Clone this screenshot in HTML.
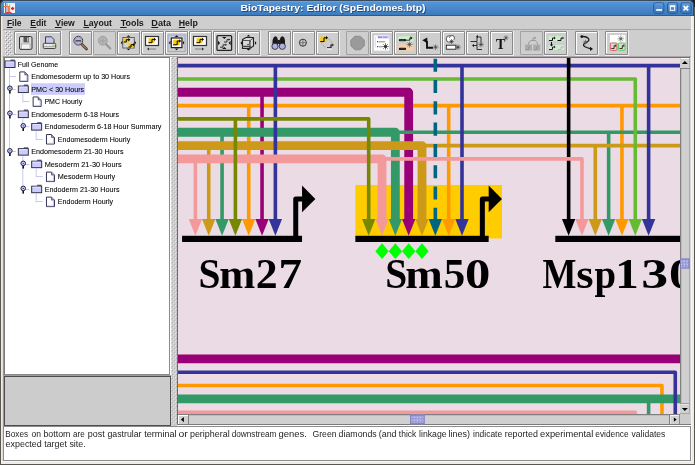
<!DOCTYPE html>
<html><head><meta charset="utf-8">
<style>
*{box-sizing:border-box;margin:0;padding:0}
html,body{width:695px;height:465px;overflow:hidden;background:#cecece;font-family:"Liberation Sans",sans-serif}
.a{position:absolute}
svg{will-change:transform}
#menu{left:3px;top:16px;width:688px;height:14px;background:#cecece;border-bottom:1px solid #a6a6a6}
#tb{left:3px;top:30px;width:688px;height:27px;background:#cecece;border-bottom:1px solid #a8a8a8}
#tree{left:4px;top:57px;width:166px;height:318px;background:#fff;border:1px solid #7a7a7a;border-right-color:#8a8a8a;border-bottom-color:#8a8a8a}
#lowpanel{left:4px;top:376px;width:167px;height:50px;background:#cccccc;border:1px solid #4d4d4d}
#canvas{left:178px;top:58px;width:502px;height:356px;background:#eadbe5;overflow:hidden}
#text{left:3px;top:426px;width:688px;height:35px;background:#fff;border:1px solid #8c8c8c}
</style></head><body>
<div class="a" style="left:0;top:0;width:1px;height:465px;background:#5a5650"></div>
<div class="a" style="left:1px;top:16px;width:2px;height:448px;background:#efece7"></div>
<div class="a" style="left:2px;top:16px;width:1px;height:446px;background:#dedad5"></div>
<div class="a" style="left:691px;top:16px;width:3px;height:448px;background:#efece7"></div>
<div class="a" style="left:691px;top:16px;width:1px;height:446px;background:#f8f7f4"></div>
<div class="a" style="left:694px;top:0;width:1px;height:465px;background:#5a5650"></div>
<div class="a" style="left:0;top:464px;width:695px;height:1px;background:#5a5650"></div>
<div class="a" style="left:1px;top:461px;width:693px;height:3px;background:#efece7"></div>
<div class="a" style="left:1px;top:461px;width:690px;height:1px;background:#f8f7f4"></div>
<svg class="a" style="left:0;top:0" width="695" height="16" viewBox="0 0 695 16"><defs><linearGradient id="tg" x1="0" y1="0" x2="0" y2="1"><stop offset="0" stop-color="#5597da"/><stop offset="1" stop-color="#3c7abd"/></linearGradient><linearGradient id="bg" x1="0" y1="0" x2="0" y2="1"><stop offset="0" stop-color="#5b99dc"/><stop offset="1" stop-color="#3a77bc"/></linearGradient></defs><rect x="0" y="0" width="695" height="7" fill="#1e1e1e"/><path d="M0 16V5Q0 0 5 0H689Q694 0 694 5V16Z" fill="#394b5e"/><path d="M1 15V5.5Q1 1 5.5 1H688.5Q693 1 693 5.5V15Z" fill="url(#tg)"/><path d="M3 1.5H690" stroke="#64a4e4" stroke-width="1"/><rect x="0" y="15" width="693" height="1" fill="#2d5b8e"/><rect x="4" y="3" width="11" height="10" fill="#f4f4f8"/><rect x="5" y="3" width="1.2" height="9" fill="#3a9a3a"/><rect x="6.5" y="3.5" width="1.2" height="8.5" fill="#8fa8f0"/><rect x="9" y="4.5" width="1.2" height="7.5" fill="#8fa8f0"/><rect x="4" y="6" width="5" height="1.2" fill="#f08030"/><rect x="8" y="6" width="1.2" height="6" fill="#f08030"/><rect x="5" y="12" width="6.5" height="1" fill="#e04040"/><path d="M11 8.5H14.2M12.6 7V10" stroke="#e02020" stroke-width="1.3"/><text x="241.4" y="12" textLength="185" lengthAdjust="spacingAndGlyphs" font-family="Liberation Sans" font-weight="bold" font-size="8.6" fill="#23406a" opacity="0.85">BioTapestry: Editor (SpEndomes.btp)</text><text x="240.6" y="11" textLength="185" lengthAdjust="spacingAndGlyphs" font-family="Liberation Sans" font-weight="bold" font-size="8.6" fill="#ffffff">BioTapestry: Editor (SpEndomes.btp)</text><rect x="653.7" y="2.8" width="10.2" height="10.6" rx="2" fill="url(#bg)" stroke="#2b5a92" stroke-width="1"/><path d="M655.2 3.8H662.4000000000001" stroke="#6aa6e6" stroke-width="0.8"/><rect x="667.5" y="2.8" width="10.2" height="10.6" rx="2" fill="url(#bg)" stroke="#2b5a92" stroke-width="1"/><path d="M669 3.8H676.2" stroke="#6aa6e6" stroke-width="0.8"/><rect x="680.9" y="2.8" width="10.2" height="10.6" rx="2" fill="url(#bg)" stroke="#2b5a92" stroke-width="1"/><path d="M682.4 3.8H689.6" stroke="#6aa6e6" stroke-width="0.8"/><rect x="656.2" y="9.1" width="5.8" height="1.7" fill="#fff"/><rect x="670.3" y="6" width="4.4" height="4.3" fill="none" stroke="#fff" stroke-width="1"/><rect x="669.8" y="5.5" width="5.4" height="1.6" fill="#fff"/><path d="M683.5 5.8L688.2 10.3M688.2 5.8L683.5 10.3" stroke="#fff" stroke-width="1.7"/></svg>
<div id="menu" class="a"></div>
<svg class="a" style="left:0;top:16px" width="240" height="14" viewBox="0 16 240 14" font-family="Liberation Sans" font-weight="bold" font-size="8.6" fill="#1a1a1a"><text x="6.93" y="25.6" textLength="14.66" lengthAdjust="spacingAndGlyphs">File</text><rect x="6.90" y="27" width="5.52" height="1" fill="#1a1a1a"/><text x="30.33" y="25.6" textLength="16.07" lengthAdjust="spacingAndGlyphs">Edit</text><rect x="30.30" y="27" width="5.97" height="1" fill="#1a1a1a"/><text x="55.34" y="25.6" textLength="19.44" lengthAdjust="spacingAndGlyphs">View</text><rect x="54.80" y="27" width="6.77" height="1" fill="#1a1a1a"/><text x="83.42" y="25.6" textLength="28.49" lengthAdjust="spacingAndGlyphs">Layout</text><rect x="83.40" y="27" width="5.66" height="1" fill="#1a1a1a"/><text x="120.70" y="25.6" textLength="23.15" lengthAdjust="spacingAndGlyphs">Tools</text><rect x="120.20" y="27" width="6.31" height="1" fill="#1a1a1a"/><text x="151.39" y="25.6" textLength="19.75" lengthAdjust="spacingAndGlyphs">Data</text><rect x="151.40" y="27" width="6.79" height="1" fill="#1a1a1a"/><text x="178.71" y="25.6" textLength="19.05" lengthAdjust="spacingAndGlyphs">Help</text><rect x="178.70" y="27" width="6.37" height="1" fill="#1a1a1a"/></svg>
<div id="tb" class="a"></div>
<svg class="a" style="left:0;top:30px" width="695" height="27" viewBox="0 30 695 27"><defs><pattern id="grip" width="4" height="4" patternUnits="userSpaceOnUse" x="5" y="31"><rect x="0" y="0" width="1" height="1" fill="#fff"/><rect x="1" y="1" width="1" height="1" fill="#8a8a8a"/><rect x="2" y="2" width="1" height="1" fill="#fff"/><rect x="3" y="3" width="1" height="1" fill="#8a8a8a"/></pattern></defs><rect x="5" y="31" width="7" height="25" fill="url(#grip)" opacity="0.85"/><path d="M14.5 31.5h22v23h-22z" fill="none" stroke="#8a8a8a"/><path d="M15.5 53V32.5H36" fill="none" stroke="#fff"/><path d="M14 55.5H37.5V31" fill="none" stroke="#f0f0f0"/><path d="M38.5 31.5h22v23h-22z" fill="none" stroke="#8a8a8a"/><path d="M39.5 53V32.5H60" fill="none" stroke="#fff"/><path d="M38 55.5H61.5V31" fill="none" stroke="#f0f0f0"/><path d="M69.5 31.5h22v23h-22z" fill="none" stroke="#8a8a8a"/><path d="M70.5 53V32.5H91" fill="none" stroke="#fff"/><path d="M69 55.5H92.5V31" fill="none" stroke="#f0f0f0"/><path d="M93.5 31.5h22v23h-22z" fill="none" stroke="#a2a2a2"/><path d="M117.5 31.5h22v23h-22z" fill="none" stroke="#8a8a8a"/><path d="M118.5 53V32.5H139" fill="none" stroke="#fff"/><path d="M117 55.5H140.5V31" fill="none" stroke="#f0f0f0"/><path d="M141.5 31.5h22v23h-22z" fill="none" stroke="#8a8a8a"/><path d="M142.5 53V32.5H163" fill="none" stroke="#fff"/><path d="M141 55.5H164.5V31" fill="none" stroke="#f0f0f0"/><path d="M165.5 31.5h22v23h-22z" fill="none" stroke="#8a8a8a"/><path d="M166.5 53V32.5H187" fill="none" stroke="#fff"/><path d="M165 55.5H188.5V31" fill="none" stroke="#f0f0f0"/><path d="M189.5 31.5h22v23h-22z" fill="none" stroke="#8a8a8a"/><path d="M190.5 53V32.5H211" fill="none" stroke="#fff"/><path d="M189 55.5H212.5V31" fill="none" stroke="#f0f0f0"/><path d="M213.5 31.5h22v23h-22z" fill="none" stroke="#8a8a8a"/><path d="M214.5 53V32.5H235" fill="none" stroke="#fff"/><path d="M213 55.5H236.5V31" fill="none" stroke="#f0f0f0"/><path d="M237.5 31.5h22v23h-22z" fill="none" stroke="#8a8a8a"/><path d="M238.5 53V32.5H259" fill="none" stroke="#fff"/><path d="M237 55.5H260.5V31" fill="none" stroke="#f0f0f0"/><path d="M268.5 31.5h22v23h-22z" fill="none" stroke="#8a8a8a"/><path d="M269.5 53V32.5H290" fill="none" stroke="#fff"/><path d="M268 55.5H291.5V31" fill="none" stroke="#f0f0f0"/><path d="M292.5 31.5h22v23h-22z" fill="none" stroke="#8a8a8a"/><path d="M293.5 53V32.5H314" fill="none" stroke="#fff"/><path d="M292 55.5H315.5V31" fill="none" stroke="#f0f0f0"/><path d="M316.5 31.5h22v23h-22z" fill="none" stroke="#8a8a8a"/><path d="M317.5 53V32.5H338" fill="none" stroke="#fff"/><path d="M316 55.5H339.5V31" fill="none" stroke="#f0f0f0"/><path d="M346.5 31.5h22v23h-22z" fill="none" stroke="#a2a2a2"/><path d="M370.5 31.5h22v23h-22z" fill="none" stroke="#8a8a8a"/><path d="M371.5 53V32.5H392" fill="none" stroke="#fff"/><path d="M370 55.5H393.5V31" fill="none" stroke="#f0f0f0"/><path d="M394.5 31.5h22v23h-22z" fill="none" stroke="#8a8a8a"/><path d="M395.5 53V32.5H416" fill="none" stroke="#fff"/><path d="M394 55.5H417.5V31" fill="none" stroke="#f0f0f0"/><path d="M418.5 31.5h22v23h-22z" fill="none" stroke="#8a8a8a"/><path d="M419.5 53V32.5H440" fill="none" stroke="#fff"/><path d="M418 55.5H441.5V31" fill="none" stroke="#f0f0f0"/><path d="M442.5 31.5h22v23h-22z" fill="none" stroke="#8a8a8a"/><path d="M443.5 53V32.5H464" fill="none" stroke="#fff"/><path d="M442 55.5H465.5V31" fill="none" stroke="#f0f0f0"/><path d="M466.5 31.5h22v23h-22z" fill="none" stroke="#8a8a8a"/><path d="M467.5 53V32.5H488" fill="none" stroke="#fff"/><path d="M466 55.5H489.5V31" fill="none" stroke="#f0f0f0"/><path d="M490.5 31.5h22v23h-22z" fill="none" stroke="#8a8a8a"/><path d="M491.5 53V32.5H512" fill="none" stroke="#fff"/><path d="M490 55.5H513.5V31" fill="none" stroke="#f0f0f0"/><path d="M520.5 31.5h22v23h-22z" fill="none" stroke="#a2a2a2"/><path d="M544.5 31.5h22v23h-22z" fill="none" stroke="#8a8a8a"/><path d="M545.5 53V32.5H566" fill="none" stroke="#fff"/><path d="M544 55.5H567.5V31" fill="none" stroke="#f0f0f0"/><path d="M575.5 31.5h22v23h-22z" fill="none" stroke="#8a8a8a"/><path d="M576.5 53V32.5H597" fill="none" stroke="#fff"/><path d="M575 55.5H598.5V31" fill="none" stroke="#f0f0f0"/><path d="M605.5 31.5h22v23h-22z" fill="none" stroke="#8a8a8a"/><path d="M606.5 53V32.5H627" fill="none" stroke="#fff"/><path d="M605 55.5H628.5V31" fill="none" stroke="#f0f0f0"/><rect x="19.5" y="36.5" width="12.5" height="13" rx="1.5" fill="#d8d8d8" stroke="#333" stroke-width="1"/><rect x="23.5" y="36.8" width="5.5" height="5.5" fill="#555"/><rect x="27" y="37.5" width="1.5" height="4" fill="#bbb"/><rect x="21.5" y="44" width="8.5" height="5" fill="#f4f4f4" stroke="#888" stroke-width="0.5"/><path d="M45.5 43.5V36.8H51.5L54 39.5V43.5" fill="#c6c6f0" stroke="#333" stroke-width="0.9"/><rect x="43.3" y="43.3" width="12.4" height="5.2" rx="1" fill="#e8e8e8" stroke="#333" stroke-width="0.9"/><rect x="44" y="46.2" width="11" height="1" fill="#999"/><rect x="52" y="44.6" width="3" height="1.4" fill="#bbee33"/><path d="M81.5 44L86.5 49" stroke="#333" stroke-width="2.6" stroke-linecap="round"/><path d="M81.8 44.3L86.2 48.7" stroke="#c8844a" stroke-width="1.2" stroke-linecap="round"/><circle cx="78.3" cy="40.7" r="4.4" fill="#b8b8e4" stroke="#444" stroke-width="1"/><circle cx="78.3" cy="40.7" r="3.4" fill="none" stroke="#9898cc" stroke-width="0.8"/><rect x="75.6" y="40" width="5.4" height="1.6" fill="#555"/><path d="M105.8 44L110.3 48.5" stroke="#999" stroke-width="2.2" stroke-linecap="round"/><circle cx="102.8" cy="40.7" r="4.4" fill="#b4b4b4" stroke="#9c9c9c" stroke-width="1"/><path d="M100.3 40.7h5M102.8 38.2v5" stroke="#a4a4a4" stroke-width="1.2"/><rect x="122.8" y="37.5" width="11.5" height="10.5" fill="#d4d4d4" stroke="#555" stroke-width="0.9"/><rect x="123.8" y="38.5" width="5" height="4" fill="#ffcc00"/><path d="M123.8 42.0H126.30000000000001V39.7H128.8" stroke="#000" stroke-width="1" fill="none"/><path d="M128.3 38.0l2 1.7l-2 1.7z" fill="#000"/><rect x="128.5" y="43.5" width="5" height="4" fill="#ffcc00"/><path d="M128.5 47.0H131.0V44.7H133.5" stroke="#000" stroke-width="1" fill="none"/><path d="M133.0 43.0l2 1.7l-2 1.7z" fill="#000"/><path d="M128.5 35.2l-2 1.6h4z M128.5 50.3l-2-1.6h4z M120.8 42.7l1.6-2v4z M136.2 42.7l-1.6-2v4z" fill="#111"/><rect x="145.5" y="36.5" width="13" height="9" fill="#fff" stroke="#333" stroke-width="1.2"/><rect x="148.5" y="38.2" width="6" height="5" fill="#ffcc00"/><path d="M148.5 42.7H152.0V39.400000000000006H154.5" stroke="#000" stroke-width="1" fill="none"/><path d="M154.0 37.7l2 1.7l-2 1.7z" fill="#000"/><path d="M148 49H156" stroke="#777" stroke-width="0.9"/><path d="M147 49l2-1.6v3.2z" fill="#333"/><rect x="168" y="35" width="17" height="16.5" fill="none" stroke="#a0a0d8" stroke-width="0.9"/><rect x="171.3" y="38" width="10.6" height="9.6" fill="#fff" stroke="#222" stroke-width="1.2"/><rect x="173.2" y="39.8" width="6.5" height="5.5" fill="#ffcc00"/><path d="M173.2 44.8H177.2V41.0H179.7" stroke="#000" stroke-width="1" fill="none"/><path d="M179.2 39.3l2 1.7l-2 1.7z" fill="#000"/><path d="M176.6 35.3l-2 1.6h4z M176.6 50.2l-2-1.6h4z M168.8 42.8l1.6-2v4z M184.4 42.8l-1.6-2v4z" fill="#111"/><rect x="193.5" y="36.5" width="13" height="9" fill="#fff" stroke="#333" stroke-width="1.2"/><rect x="196.5" y="38.2" width="6" height="5" fill="#ffcc00"/><path d="M196.5 42.7H200.0V39.400000000000006H202.5" stroke="#000" stroke-width="1" fill="none"/><path d="M202.0 37.7l2 1.7l-2 1.7z" fill="#000"/><path d="M195 49H203" stroke="#777" stroke-width="0.9"/><path d="M204 49l-2-1.6v3.2z" fill="#333"/><rect x="217" y="35.6" width="14.6" height="14.8" rx="1" fill="#d0d0d0" stroke="#222" stroke-width="1.3"/><path d="M224.3 39l-2.2-2h4.4z M224.3 47l-2.2 2h4.4z M220 43l-2-2.2v4.4z M228.6 43l2-2.2v4.4z" fill="#111"/><path d="M220 47.2H223V44.8H225.8M224 42H227V39.6H229" stroke="#333" stroke-width="1" fill="none"/><path d="M225.5 43.5l1.5 1.3-1.5 1.3z M228.7 38.2l1.5 1.3-1.5 1.3z" fill="#222"/><path d="M242.5 39.5L246 37.5H253.5V46L250 48.5H242.5Z" fill="#d8d8d8" stroke="#222" stroke-width="1.1"/><path d="M250 48.5V40.5L253.5 38" stroke="#444" stroke-width="0.9" fill="none"/><path d="M242.5 40.5H250" stroke="#444" stroke-width="0.9"/><path d="M242.5 46.5H250V48.5" stroke="#444" stroke-width="1.5" fill="none"/><path d="M247 44.5H249.5V41.5H251" stroke="#555" stroke-width="0.9" fill="none"/><path d="M248.5 34.8l-2 1.6h4z M248.5 50.5l-2-1.6h4z M240.5 43l1.6-2v4z M256.5 43l-1.6-2v4z" fill="#111"/><path d="M272.5 47V41Q273 37 275.5 36.3Q277.8 37 278 41V47Z" fill="#1a1a1a"/><path d="M279.5 47V41Q280 37 282.3 36.3Q284.8 37 285 41V47Z" fill="#1a1a1a"/><rect x="277" y="40" width="3.5" height="4" fill="#222"/><circle cx="275" cy="46.3" r="3.1" fill="#b0b0e8" stroke="#222" stroke-width="0.8"/><circle cx="282.3" cy="46.3" r="3.1" fill="#b0b0e8" stroke="#222" stroke-width="0.8"/><circle cx="302.9" cy="42.7" r="3.5" fill="none" stroke="#333" stroke-width="1"/><path d="M302.9 39v7.4M299.2 42.7h7.4" stroke="#555" stroke-width="0.7"/><rect x="320.3" y="36.6" width="6.2" height="5.5" fill="#ffcc00"/><path d="M320.3 41.6H324.0V37.800000000000004H326.5" stroke="#000" stroke-width="1" fill="none"/><path d="M326.0 36.1l2 1.7l-2 1.7z" fill="#000"/><path d="M327.5 38.5Q331.5 40 332 44M321.5 43.5Q323.5 46 326 47.5" stroke="#777" stroke-width="0.7" stroke-dasharray="1 1" fill="none"/><path d="M327 47.8H331V45H332.5" stroke="#111" stroke-width="1.1" fill="none"/><path d="M332.3 43.5l1.6 1.5-1.6 1.5z" fill="#111"/><rect x="327" y="48.5" width="5" height="1" fill="#fff"/><polygon points="364.34,45.79 360.39,49.74 354.81,49.74 350.86,45.79 350.86,40.21 354.81,36.26 360.39,36.26 364.34,40.21" fill="#9a9a9a" stroke="#8e8e8e" stroke-width="1"/><rect x="374" y="35.5" width="15.3" height="15.2" fill="#fff"/><rect x="377.5" y="36" width="11.5" height="2.5" fill="#ccccff"/><rect x="378" y="36.6" width="4" height="1.3" fill="#8888bb"/><rect x="383" y="36.6" width="4.5" height="1.3" fill="#9999cc"/><path d="M375.3 37v10.5" stroke="#ccccff" stroke-width="0.8"/><rect x="377" y="41" width="1.3" height="1.3" fill="#555"/><rect x="379" y="41.3" width="6" height="1" fill="#888"/><rect x="377" y="46" width="1.3" height="1.3" fill="#555"/><rect x="379" y="46.3" width="3" height="1" fill="#888"/><path d="M382.2 46.5L388.8 46.5" stroke="#222" stroke-width="0.7" opacity="0.85"/><path d="M385.5 43.2L385.5 49.8" stroke="#222" stroke-width="0.7" opacity="0.85"/><path d="M383.2 44.2L387.8 48.8" stroke="#222" stroke-width="0.7" opacity="0.85"/><path d="M383.2 48.8L387.8 44.2" stroke="#222" stroke-width="0.7" opacity="0.85"/><circle cx="385.5" cy="46.5" r="1.25" fill="#222"/><rect x="398.3" y="36.2" width="15" height="5.5" fill="#ccf0cc"/><rect x="398.3" y="44.5" width="15" height="6.2" fill="#f8d0a8"/><rect x="398.8" y="39" width="7.3" height="2.3" rx="1.1" fill="#1a1a1a"/><path d="M400.5 40.1h1M402.5 40.1h1.2" stroke="#aaa" stroke-width="0.6"/><path d="M406 40.2H409.8V38H411" stroke="#222" stroke-width="0.9" fill="none"/><path d="M410.5 36.3l2.2 1.7-2.2 1.7z" fill="#111"/><rect x="398.8" y="47.8" width="7.3" height="2.3" rx="1.1" fill="#111"/><path d="M400.3 48.9h4.5" stroke="#777" stroke-width="0.5"/><path d="M406.5 44.5L412.5 44.5" stroke="#555" stroke-width="0.7" opacity="0.85"/><path d="M409.5 41.5L409.5 47.5" stroke="#555" stroke-width="0.7" opacity="0.85"/><path d="M407.4 42.4L411.6 46.6" stroke="#555" stroke-width="0.7" opacity="0.85"/><path d="M407.4 46.6L411.6 42.4" stroke="#555" stroke-width="0.7" opacity="0.85"/><circle cx="409.5" cy="44.5" r="1.14" fill="#555"/><path d="M427 41V47.8H433" stroke="#111" stroke-width="1.9" fill="none"/><path d="M422.3 40.3L427.3 37.6V43.2Z" fill="#111"/><path d="M432.5 47.2L438.5 47.2" stroke="#555" stroke-width="0.7" opacity="0.85"/><path d="M435.5 44.2L435.5 50.2" stroke="#555" stroke-width="0.7" opacity="0.85"/><path d="M433.4 45.1L437.6 49.3" stroke="#555" stroke-width="0.7" opacity="0.85"/><path d="M433.4 49.3L437.6 45.1" stroke="#555" stroke-width="0.7" opacity="0.85"/><circle cx="435.5" cy="47.2" r="1.14" fill="#555"/><circle cx="449.5" cy="39" r="3.3" fill="#fff" stroke="#333" stroke-width="0.8"/><circle cx="452" cy="38" r="2.5" fill="#fff" stroke="#333" stroke-width="0.8"/><circle cx="451" cy="40" r="2.6" fill="#fff"/><path d="M449.0 41.5L454.0 41.5" stroke="#333" stroke-width="0.7" opacity="0.85"/><path d="M451.5 39.0L451.5 44.0" stroke="#333" stroke-width="0.7" opacity="0.85"/><path d="M449.8 39.8L453.2 43.2" stroke="#333" stroke-width="0.7" opacity="0.85"/><path d="M449.8 43.2L453.2 39.8" stroke="#333" stroke-width="0.7" opacity="0.85"/><circle cx="451.5" cy="41.5" r="0.95" fill="#333"/><rect x="446.3" y="45.2" width="9.6" height="4" fill="#fff" stroke="#222" stroke-width="0.9"/><path d="M455.2 47.2L460.8 47.2" stroke="#444" stroke-width="0.7" opacity="0.85"/><path d="M458.0 44.4L458.0 50.0" stroke="#444" stroke-width="0.7" opacity="0.85"/><path d="M456.0 45.2L460.0 49.2" stroke="#444" stroke-width="0.7" opacity="0.85"/><path d="M456.0 49.2L460.0 45.2" stroke="#444" stroke-width="0.7" opacity="0.85"/><circle cx="458" cy="47.2" r="1.06" fill="#444"/><path d="M470.5 41.5H477V37H481V42.5M477 42V49.5H482" stroke="#222" stroke-width="0.9" fill="none"/><path d="M476 36.5l2-1.6v3.2z M472 45.5l2-1.6v3.2z" fill="#111"/><path d="M474 45.5H477" stroke="#222" stroke-width="0.9"/><path d="M478.2 44.5L483.8 44.5" stroke="#444" stroke-width="0.7" opacity="0.85"/><path d="M481.0 41.7L481.0 47.3" stroke="#444" stroke-width="0.7" opacity="0.85"/><path d="M479.0 42.5L483.0 46.5" stroke="#444" stroke-width="0.7" opacity="0.85"/><path d="M479.0 46.5L483.0 42.5" stroke="#444" stroke-width="0.7" opacity="0.85"/><circle cx="481" cy="44.5" r="1.06" fill="#444"/><text x="496" y="48.6" font-family="Liberation Serif" font-weight="bold" font-size="14" fill="#111">T</text><path d="M503.5 37.8L508.5 37.8" stroke="#555" stroke-width="0.7" opacity="0.85"/><path d="M506.0 35.3L506.0 40.3" stroke="#555" stroke-width="0.7" opacity="0.85"/><path d="M504.2 36.0L507.8 39.5" stroke="#555" stroke-width="0.7" opacity="0.85"/><path d="M504.2 39.5L507.8 36.0" stroke="#555" stroke-width="0.7" opacity="0.85"/><circle cx="506" cy="37.8" r="0.95" fill="#555"/><rect x="525" y="44.5" width="7" height="6.2" fill="#ababab"/><rect x="533.2" y="44.5" width="7" height="6.2" fill="#ababab"/><path d="M526 49.5H528.5V47H530M534.2 49.5H536.7V47H538.2" stroke="#949494" stroke-width="0.9" fill="none"/><path d="M528.5 44.5V43L530.5 40.5H535.5L537.5 43V44.5M533 40.5V38H535" stroke="#9a9a9a" stroke-width="1" fill="none"/><path d="M534.6 36.3l1.8 1.6-1.8 1.6z" fill="#9a9a9a"/><rect x="548.7" y="36.2" width="15.5" height="4.6" fill="#ccf0cc"/><rect x="548.7" y="45" width="15.5" height="5" fill="#ccf0cc"/><path d="M549 40.5H552.5V38.0H554" stroke="#111" stroke-width="1" fill="none"/><path d="M554 36.5l1.6 1.5-1.6 1.5z" fill="#111"/><path d="M557.5 40.5H561.0V38.0H562.5" stroke="#111" stroke-width="1" fill="none"/><path d="M562.5 36.5l1.6 1.5-1.6 1.5z" fill="#111"/><path d="M549 49.5H552.5V47.0H554" stroke="#222" stroke-width="1" fill="none"/><path d="M554 45.5l1.6 1.5-1.6 1.5z" fill="#222"/><path d="M557.5 49.5H561.0V47.0H562.5" stroke="#bbb" stroke-width="1" fill="none"/><path d="M562.5 45.5l1.6 1.5-1.6 1.5z" fill="#bbb"/><path d="M551.5 42V45" stroke="#111" stroke-width="1"/><path d="M549.8 44.5h3.4l-1.7 2z" fill="#111"/><path d="M581.8 36.6Q586 36 588.5 38.5Q590 41 586 42.5Q582 44.5 584.5 46.5Q587 48 591 48.8" stroke="#1a1a1a" stroke-width="1.3" fill="none"/><circle cx="581.8" cy="36.6" r="1.4" fill="#111"/><path d="M593 49l-3-2.2v4.2z" fill="#111"/><path d="M583.0 42.3L588.0 42.3" stroke="#555" stroke-width="0.7" opacity="0.85"/><path d="M585.5 39.8L585.5 44.8" stroke="#555" stroke-width="0.7" opacity="0.85"/><path d="M583.8 40.5L587.2 44.0" stroke="#555" stroke-width="0.7" opacity="0.85"/><path d="M583.8 44.0L587.2 40.5" stroke="#555" stroke-width="0.7" opacity="0.85"/><circle cx="585.5" cy="42.3" r="0.95" fill="#555"/><rect x="610" y="35" width="15.4" height="7.7" fill="#fff"/><path d="M617.4 38.8L624.2 38.8" stroke="#666" stroke-width="0.7" opacity="0.85"/><path d="M620.8 35.4L620.8 42.2" stroke="#666" stroke-width="0.7" opacity="0.85"/><path d="M618.4 36.4L623.2 41.2" stroke="#666" stroke-width="0.7" opacity="0.85"/><path d="M618.4 41.2L623.2 36.4" stroke="#666" stroke-width="0.7" opacity="0.85"/><circle cx="620.8" cy="38.8" r="1.29" fill="#666"/><rect x="610.3" y="43" width="6.6" height="7.4" rx="1" fill="#d8d8d8" stroke="#e85050" stroke-width="0.9"/><rect x="618.5" y="43" width="6.6" height="7.4" rx="1" fill="#d8d8d8" stroke="#50d050" stroke-width="0.9"/><path d="M611.3 48.5H614.0999999999999V45.7H615.3" stroke="#222" stroke-width="0.9" fill="none"/><path d="M615.0999999999999 44.3l1.5 1.4-1.5 1.4z" fill="#222"/><path d="M619.5 48.5H622.3V45.7H623.5" stroke="#222" stroke-width="0.9" fill="none"/><path d="M623.3 44.3l1.5 1.4-1.5 1.4z" fill="#222"/></svg>
<div class="a" style="left:3px;top:56px;width:1px;height:370px;background:#999"></div>
<div id="tree" class="a"></div>
<div class="a" style="left:170px;top:57px;width:1px;height:319px;background:#fff"></div>
<div class="a" style="left:4px;top:375px;width:167px;height:1px;background:#9c9c9c"></div>
<svg class="a" style="left:0;top:0" width="172" height="375" viewBox="0 0 172 375" font-family="Liberation Sans"><path d="M9.5 68.5V152.33999999999997" stroke="#c8c8f4" stroke-width="1"/><path d="M22.83 93.53999999999999V102.26" stroke="#c8c8f4" stroke-width="1"/><path d="M22.83 118.58V127.3" stroke="#c8c8f4" stroke-width="1"/><path d="M36.16 131.1V139.82" stroke="#c8c8f4" stroke-width="1"/><path d="M22.83 156.14V189.89999999999998" stroke="#c8c8f4" stroke-width="1"/><path d="M36.16 168.66V177.38" stroke="#c8c8f4" stroke-width="1"/><path d="M36.16 193.7V202.42" stroke="#c8c8f4" stroke-width="1"/><path d="M9.5 76.5H16.0" stroke="#c8c8f4" stroke-width="1"/><path d="M9.5 89.5H16.0" stroke="#c8c8f4" stroke-width="1"/><path d="M22.83 101.5H29.33" stroke="#c8c8f4" stroke-width="1"/><path d="M9.5 114.5H16.0" stroke="#c8c8f4" stroke-width="1"/><path d="M22.83 126.5H29.33" stroke="#c8c8f4" stroke-width="1"/><path d="M36.16 139.5H42.66" stroke="#c8c8f4" stroke-width="1"/><path d="M9.5 151.5H16.0" stroke="#c8c8f4" stroke-width="1"/><path d="M22.83 164.5H29.33" stroke="#c8c8f4" stroke-width="1"/><path d="M36.16 176.5H42.66" stroke="#c8c8f4" stroke-width="1"/><path d="M22.83 189.5H29.33" stroke="#c8c8f4" stroke-width="1"/><path d="M36.16 201.5H42.66" stroke="#c8c8f4" stroke-width="1"/><rect x="31" y="83.24" width="54" height="11.6" fill="#ccccff"/><path d="M10.5 59.5h4.3v1.5h-4.3z" fill="#5a5a9a"/><rect x="5.0" y="61.0" width="10" height="6.5" fill="#ccccff" stroke="#333344" stroke-width="1"/><path d="M6.0 62.0H14.0" stroke="#eeeeff" stroke-width="0.8"/><text x="17.8" y="66.65" textLength="40.300000000000004" lengthAdjust="spacingAndGlyphs" font-size="7.9" fill="#000" stroke="#000" stroke-width="0.08">Full Genome</text><path d="M19.8 71.92H24.8L27.8 74.92V81.42H19.8Z" fill="#fff" stroke="#333355" stroke-width="1"/><path d="M24.8 71.92V74.92H27.8" fill="#9999cc" stroke="#333355" stroke-width="0.6"/><path d="M26.8 75.42V80.72H20.5" fill="none" stroke="#b8b8e0" stroke-width="0.8"/><text x="31.200000000000003" y="79.17" textLength="98.80000000000001" lengthAdjust="spacingAndGlyphs" font-size="7.9" fill="#000" stroke="#000" stroke-width="0.08">Endomesoderm up to 30 Hours</text><path d="M23.83 84.53999999999999h4.3v1.5h-4.3z" fill="#5a5a9a"/><rect x="18.33" y="86.03999999999999" width="10" height="6.5" fill="#ccccff" stroke="#333344" stroke-width="1"/><path d="M19.33 87.03999999999999H27.33" stroke="#eeeeff" stroke-width="0.8"/><path d="M9.9 90.24V93.44" stroke="#111" stroke-width="1.6"/><circle cx="9.9" cy="88.24" r="2.3" fill="#aaaaee" stroke="#22224a" stroke-width="1"/><circle cx="9.9" cy="88.24" r="1.3" fill="#e4e4ff"/><circle cx="9.9" cy="88.24" r="0.65" fill="#111"/><text x="31.200000000000003" y="91.69" textLength="52.89999999999999" lengthAdjust="spacingAndGlyphs" font-size="7.9" fill="#000" stroke="#000" stroke-width="0.08">PMC &lt; 30 Hours</text><path d="M33.13 96.96000000000001H38.13L41.13 99.96000000000001V106.46000000000001H33.13Z" fill="#fff" stroke="#333355" stroke-width="1"/><path d="M38.13 96.96000000000001V99.96000000000001H41.13" fill="#9999cc" stroke="#333355" stroke-width="0.6"/><path d="M40.13 100.46000000000001V105.76H33.830000000000005" fill="none" stroke="#b8b8e0" stroke-width="0.8"/><text x="44.4" y="104.21000000000001" textLength="37.800000000000004" lengthAdjust="spacingAndGlyphs" font-size="7.9" fill="#000" stroke="#000" stroke-width="0.08">PMC Hourly</text><path d="M23.83 109.58h4.3v1.5h-4.3z" fill="#5a5a9a"/><rect x="18.33" y="111.08" width="10" height="6.5" fill="#ccccff" stroke="#333344" stroke-width="1"/><path d="M19.33 112.08H27.33" stroke="#eeeeff" stroke-width="0.8"/><path d="M9.9 115.28V118.48" stroke="#111" stroke-width="1.6"/><circle cx="9.9" cy="113.28" r="2.3" fill="#aaaaee" stroke="#22224a" stroke-width="1"/><circle cx="9.9" cy="113.28" r="1.3" fill="#e4e4ff"/><circle cx="9.9" cy="113.28" r="0.65" fill="#111"/><text x="31.200000000000003" y="116.73" textLength="87.9" lengthAdjust="spacingAndGlyphs" font-size="7.9" fill="#000" stroke="#000" stroke-width="0.08">Endomesoderm 6-18 Hours</text><path d="M37.16 122.1h4.3v1.5h-4.3z" fill="#5a5a9a"/><rect x="31.66" y="123.6" width="10" height="6.5" fill="#ccccff" stroke="#333344" stroke-width="1"/><path d="M32.66 124.6H40.66" stroke="#eeeeff" stroke-width="0.8"/><path d="M23.23 127.8V131.0" stroke="#111" stroke-width="1.6"/><circle cx="23.23" cy="125.8" r="2.3" fill="#aaaaee" stroke="#22224a" stroke-width="1"/><circle cx="23.23" cy="125.8" r="1.3" fill="#e4e4ff"/><circle cx="23.23" cy="125.8" r="0.65" fill="#111"/><text x="44.7" y="129.25" textLength="116.70000000000002" lengthAdjust="spacingAndGlyphs" font-size="7.9" fill="#000" stroke="#000" stroke-width="0.08">Endomesoderm 6-18 Hour Summary</text><path d="M46.46 134.52H51.46L54.46 137.52V144.02H46.46Z" fill="#fff" stroke="#333355" stroke-width="1"/><path d="M51.46 134.52V137.52H54.46" fill="#9999cc" stroke="#333355" stroke-width="0.6"/><path d="M53.46 138.02V143.32000000000002H47.160000000000004" fill="none" stroke="#b8b8e0" stroke-width="0.8"/><text x="57.800000000000004" y="141.77" textLength="72.39999999999999" lengthAdjust="spacingAndGlyphs" font-size="7.9" fill="#000" stroke="#000" stroke-width="0.08">Endomesoderm Hourly</text><path d="M23.83 147.14h4.3v1.5h-4.3z" fill="#5a5a9a"/><rect x="18.33" y="148.64" width="10" height="6.5" fill="#ccccff" stroke="#333344" stroke-width="1"/><path d="M19.33 149.64H27.33" stroke="#eeeeff" stroke-width="0.8"/><path d="M9.9 152.83999999999997V156.03999999999996" stroke="#111" stroke-width="1.6"/><circle cx="9.9" cy="150.83999999999997" r="2.3" fill="#aaaaee" stroke="#22224a" stroke-width="1"/><circle cx="9.9" cy="150.83999999999997" r="1.3" fill="#e4e4ff"/><circle cx="9.9" cy="150.83999999999997" r="0.65" fill="#111"/><text x="31.200000000000003" y="154.29" textLength="92.4" lengthAdjust="spacingAndGlyphs" font-size="7.9" fill="#000" stroke="#000" stroke-width="0.08">Endomesoderm 21-30 Hours</text><path d="M37.16 159.66h4.3v1.5h-4.3z" fill="#5a5a9a"/><rect x="31.66" y="161.16" width="10" height="6.5" fill="#ccccff" stroke="#333344" stroke-width="1"/><path d="M32.66 162.16H40.66" stroke="#eeeeff" stroke-width="0.8"/><path d="M23.23 165.35999999999999V168.55999999999997" stroke="#111" stroke-width="1.6"/><circle cx="23.23" cy="163.35999999999999" r="2.3" fill="#aaaaee" stroke="#22224a" stroke-width="1"/><circle cx="23.23" cy="163.35999999999999" r="1.3" fill="#e4e4ff"/><circle cx="23.23" cy="163.35999999999999" r="0.65" fill="#111"/><text x="44.7" y="166.81" textLength="76.9" lengthAdjust="spacingAndGlyphs" font-size="7.9" fill="#000" stroke="#000" stroke-width="0.08">Mesoderm 21-30 Hours</text><path d="M46.46 172.08H51.46L54.46 175.08V181.58H46.46Z" fill="#fff" stroke="#333355" stroke-width="1"/><path d="M51.46 172.08V175.08H54.46" fill="#9999cc" stroke="#333355" stroke-width="0.6"/><path d="M53.46 175.58V180.88000000000002H47.160000000000004" fill="none" stroke="#b8b8e0" stroke-width="0.8"/><text x="57.800000000000004" y="179.33" textLength="57.29999999999999" lengthAdjust="spacingAndGlyphs" font-size="7.9" fill="#000" stroke="#000" stroke-width="0.08">Mesoderm Hourly</text><path d="M37.16 184.7h4.3v1.5h-4.3z" fill="#5a5a9a"/><rect x="31.66" y="186.2" width="10" height="6.5" fill="#ccccff" stroke="#333344" stroke-width="1"/><path d="M32.66 187.2H40.66" stroke="#eeeeff" stroke-width="0.8"/><path d="M23.23 190.39999999999998V193.59999999999997" stroke="#111" stroke-width="1.6"/><circle cx="23.23" cy="188.39999999999998" r="2.3" fill="#aaaaee" stroke="#22224a" stroke-width="1"/><circle cx="23.23" cy="188.39999999999998" r="1.3" fill="#e4e4ff"/><circle cx="23.23" cy="188.39999999999998" r="0.65" fill="#111"/><text x="44.7" y="191.85" textLength="74.80000000000001" lengthAdjust="spacingAndGlyphs" font-size="7.9" fill="#000" stroke="#000" stroke-width="0.08">Endoderm 21-30 Hours</text><path d="M46.46 197.12H51.46L54.46 200.12V206.62H46.46Z" fill="#fff" stroke="#333355" stroke-width="1"/><path d="M51.46 197.12V200.12H54.46" fill="#9999cc" stroke="#333355" stroke-width="0.6"/><path d="M53.46 200.62V205.92000000000002H47.160000000000004" fill="none" stroke="#b8b8e0" stroke-width="0.8"/><text x="57.800000000000004" y="204.37" textLength="55.29999999999999" lengthAdjust="spacingAndGlyphs" font-size="7.9" fill="#000" stroke="#000" stroke-width="0.08">Endoderm Hourly</text></svg>
<div id="lowpanel" class="a"></div>
<div class="a" style="left:177px;top:57px;width:1px;height:368px;background:#6a6a6a"></div>
<div class="a" style="left:177px;top:57px;width:514px;height:1px;background:#707070"></div>
<div id="canvas" class="a"><svg class="a" style="left:0;top:0" width="502" height="356" viewBox="178 58 502 356"><rect x="355.36" y="184.97" width="146.63" height="53.519999999999996" fill="#ffcc00"/>
<path d="M-5 105.59H690" stroke="#ff9900" stroke-width="3.6" fill="none" stroke-linejoin="round" />
<path d="M248.72 105.59V220.0" stroke="#ff9900" stroke-width="3.6" fill="none" stroke-linejoin="round" />
<path d="M448.67 105.59V220.0" stroke="#ff9900" stroke-width="3.6" fill="none" stroke-linejoin="round" />
<path d="M621.96 105.59V220.0" stroke="#ff9900" stroke-width="3.6" fill="none" stroke-linejoin="round" />
<path d="M-5 92.26H408.68V220.0" stroke="#990077" stroke-width="8.8" fill="none" stroke-linejoin="round" />
<path d="M262.05 92.26V220.0" stroke="#990077" stroke-width="3.6" fill="none" stroke-linejoin="round" />
<path d="M395.35 132.25H690" stroke="#339966" stroke-width="3.6" fill="none" stroke-linejoin="round" />
<path d="M-5 132.25H395.35V220.0" stroke="#339966" stroke-width="8.8" fill="none" stroke-linejoin="round" />
<path d="M222.06 132.25V220.0" stroke="#339966" stroke-width="3.6" fill="none" stroke-linejoin="round" />
<path d="M608.63 132.25V220.0" stroke="#339966" stroke-width="3.6" fill="none" stroke-linejoin="round" />
<path d="M422.01 145.58H690" stroke="#cc9919" stroke-width="3.6" fill="none" stroke-linejoin="round" />
<path d="M-5 145.58H422.01V220.0" stroke="#cc9919" stroke-width="8.8" fill="none" stroke-linejoin="round" />
<path d="M208.73 145.58V220.0" stroke="#cc9919" stroke-width="3.6" fill="none" stroke-linejoin="round" />
<path d="M595.3 145.58V220.0" stroke="#cc9919" stroke-width="3.6" fill="none" stroke-linejoin="round" />
<path d="M-5 78.93H635.29V220.0" stroke="#66bb33" stroke-width="3.6" fill="none" stroke-linejoin="round" />
<path d="M-5 65.6H690" stroke="#333399" stroke-width="3.6" fill="none" stroke-linejoin="round" />
<path d="M275.38 65.6V220.0" stroke="#333399" stroke-width="3.6" fill="none" stroke-linejoin="round" />
<path d="M462.0 65.6V220.0" stroke="#333399" stroke-width="3.6" fill="none" stroke-linejoin="round" />
<path d="M648.62 65.6V220.0" stroke="#333399" stroke-width="3.6" fill="none" stroke-linejoin="round" />
<path d="M568.64 50V220.0" stroke="#000" stroke-width="3.6" fill="none" stroke-linejoin="round" />
<path d="M382.02 158.91H581.97V220.0" stroke="#f4999a" stroke-width="3.6" fill="none" stroke-linejoin="round" />
<path d="M-5 158.91H382.02V220.0" stroke="#f4999a" stroke-width="8.8" fill="none" stroke-linejoin="round" />
<path d="M195.4 158.91V220.0" stroke="#f4999a" stroke-width="3.6" fill="none" stroke-linejoin="round" />
<path d="M-5 118.92H368.69V220.0" stroke="#778800" stroke-width="3.6" fill="none" stroke-linejoin="round" />
<path d="M235.39 118.92V220.0" stroke="#778800" stroke-width="3.6" fill="none" stroke-linejoin="round" />
<path d="M435.34 58.7V220.0" stroke="#006680" stroke-width="3.6" fill="none" stroke-linejoin="round" stroke-dasharray="13.1 8.2"/>
<path d="M188.73 219.0L202.07 219.0L195.40 235.7Z" fill="#f4999a"/>
<path d="M202.06 219.0L215.40 219.0L208.73 235.7Z" fill="#cc9919"/>
<path d="M215.39 219.0L228.73 219.0L222.06 235.7Z" fill="#339966"/>
<path d="M228.72 219.0L242.06 219.0L235.39 235.7Z" fill="#778800"/>
<path d="M242.05 219.0L255.39 219.0L248.72 235.7Z" fill="#ff9900"/>
<path d="M255.38 219.0L268.72 219.0L262.05 235.7Z" fill="#990077"/>
<path d="M268.71 219.0L282.05 219.0L275.38 235.7Z" fill="#333399"/>
<path d="M362.02 219.0L375.36 219.0L368.69 235.7Z" fill="#778800"/>
<path d="M375.35 219.0L388.69 219.0L382.02 235.7Z" fill="#f4999a"/>
<path d="M388.68 219.0L402.02 219.0L395.35 235.7Z" fill="#339966"/>
<path d="M402.01 219.0L415.35 219.0L408.68 235.7Z" fill="#990077"/>
<path d="M415.34 219.0L428.68 219.0L422.01 235.7Z" fill="#cc9919"/>
<path d="M428.67 219.0L442.01 219.0L435.34 235.7Z" fill="#006680"/>
<path d="M442.00 219.0L455.34 219.0L448.67 235.7Z" fill="#ff9900"/>
<path d="M455.33 219.0L468.67 219.0L462.00 235.7Z" fill="#333399"/>
<path d="M561.97 219.0L575.31 219.0L568.64 235.7Z" fill="#000"/>
<path d="M575.30 219.0L588.64 219.0L581.97 235.7Z" fill="#f4999a"/>
<path d="M588.63 219.0L601.97 219.0L595.30 235.7Z" fill="#cc9919"/>
<path d="M601.96 219.0L615.30 219.0L608.63 235.7Z" fill="#339966"/>
<path d="M615.29 219.0L628.63 219.0L621.96 235.7Z" fill="#ff9900"/>
<path d="M628.62 219.0L641.96 219.0L635.29 235.7Z" fill="#66bb33"/>
<path d="M641.95 219.0L655.29 219.0L648.62 235.7Z" fill="#333399"/>
<path d="M-5 358.86H690" stroke="#990077" stroke-width="8.8" fill="none" stroke-linejoin="round" />
<path d="M-5 385.52H661.95V430" stroke="#ff9900" stroke-width="3.6" fill="none" stroke-linejoin="round" />
<path d="M-5 398.85H690" stroke="#339966" stroke-width="8.8" fill="none" stroke-linejoin="round" />
<path d="M648.62 398.85V430" stroke="#339966" stroke-width="3.6" fill="none" stroke-linejoin="round" />
<path d="M-5 412.18H635.29V430" stroke="#f4999a" stroke-width="3.6" fill="none" stroke-linejoin="round" />
<path d="M-5 372.19H675.28V430" stroke="#333399" stroke-width="3.6" fill="none" stroke-linejoin="round" />
<rect x="182.07" y="235.79" width="119.97000000000003" height="6.2" fill="#000"/>
<rect x="355.36" y="235.79" width="133.3" height="6.2" fill="#000"/>
<rect x="555.31" y="235.79" width="144.69000000000005" height="6.2" fill="#000"/>
<path d="M295.74 236.79V198.9H302.54" stroke="#000" stroke-width="5" fill="none" stroke-linejoin="round"/>
<path d="M302.04 185.57L315.37 198.9L302.04 212.23Z" fill="#000"/>
<path d="M482.36 236.79V198.9H489.16" stroke="#000" stroke-width="5" fill="none" stroke-linejoin="round"/>
<path d="M488.66 185.57L501.99 198.9L488.66 212.23Z" fill="#000"/>
<path d="M375.35 251.2L382.02 243.35L388.69 251.2L382.02 259.05Z" fill="#00ff00"/>
<path d="M388.68 251.2L395.35 243.35L402.02 251.2L395.35 259.05Z" fill="#00ff00"/>
<path d="M402.01 251.2L408.68 243.35L415.35 251.2L408.68 259.05Z" fill="#00ff00"/>
<path d="M415.34 251.2L422.01 243.35L428.68 251.2L422.01 259.05Z" fill="#00ff00"/>
<text transform="translate(200.5,287.5) scale(0.9523,1)" x="-2.21" y="0" font-family="Liberation Serif" font-weight="bold" font-size="41.5" fill="#000">S</text>
<text transform="translate(220.3,287.5) scale(1.0414,1)" x="-1.12" y="0" font-family="Liberation Serif" font-weight="bold" font-size="41.5" fill="#000">m</text>
<text transform="translate(257.5,287.5) scale(1.0568,1)" x="-1.74" y="0" font-family="Liberation Serif" font-weight="bold" font-size="41.5" fill="#000">2</text>
<text transform="translate(281.3,287.5) scale(1.1343,1)" x="-2.37" y="0" font-family="Liberation Serif" font-weight="bold" font-size="41.5" fill="#000">7</text>
<text transform="translate(387.4,287.5) scale(0.9523,1)" x="-2.21" y="0" font-family="Liberation Serif" font-weight="bold" font-size="41.5" fill="#000">S</text>
<text transform="translate(406.5,287.5) scale(1.0842,1)" x="-1.12" y="0" font-family="Liberation Serif" font-weight="bold" font-size="41.5" fill="#000">m</text>
<text transform="translate(445.4,287.5) scale(1.0358,1)" x="-1.66" y="0" font-family="Liberation Serif" font-weight="bold" font-size="41.5" fill="#000">5</text>
<text transform="translate(466.9,287.5) scale(1.2224,1)" x="-1.58" y="0" font-family="Liberation Serif" font-weight="bold" font-size="41.5" fill="#000">0</text>
<text transform="translate(543,287.5) scale(0.8668,1)" x="-0.71" y="0" font-family="Liberation Serif" font-weight="bold" font-size="41.5" fill="#000">M</text>
<text transform="translate(577.6,287.5) scale(1.0737,1)" x="-1.26" y="0" font-family="Liberation Serif" font-weight="bold" font-size="41.5" fill="#000">s</text>
<text transform="translate(594.9,287.5) scale(0.9343,1)" x="-0.53" y="0" font-family="Liberation Serif" font-weight="bold" font-size="41.5" fill="#000">p</text>
<text transform="translate(619,287.5) scale(1.1325,1)" x="-3.32" y="0" font-family="Liberation Serif" font-weight="bold" font-size="41.5" fill="#000">1</text>
<text transform="translate(643.2,287.5) scale(1.2943,1)" x="-1.56" y="0" font-family="Liberation Serif" font-weight="bold" font-size="41.5" fill="#000">3</text>
<text transform="translate(670.8,287.5) scale(1.2224,1)" x="-1.58" y="0" font-family="Liberation Serif" font-weight="bold" font-size="41.5" fill="#000">0</text></svg></div>
<svg class="a" style="left:0;top:0" width="695" height="465" viewBox="0 0 695 465"><defs><pattern id="bump" width="4" height="4" patternUnits="userSpaceOnUse" x="171" y="57"><rect width="4" height="4" fill="#cfcfcf"/><rect x="0" y="0" width="1" height="1" fill="#e8e8e8"/><rect x="1" y="1" width="1" height="1" fill="#acacac"/><rect x="2" y="2" width="1" height="1" fill="#e0e0e0"/><rect x="3" y="3" width="1" height="1" fill="#b4b4b4"/></pattern><pattern id="thumb" width="3" height="3" patternUnits="userSpaceOnUse"><rect width="3" height="3" fill="#a6a6de"/><rect x="0" y="0" width="1" height="1" fill="#c4c4f0"/><rect x="1" y="1" width="1" height="1" fill="#8e8ecc"/></pattern></defs><rect x="171" y="57" width="6" height="368" fill="url(#bump)"/><rect x="680" y="58" width="11" height="356" fill="#d0d0d0"/><rect x="680" y="69" width="1" height="334" fill="#808080"/><rect x="689" y="58" width="1" height="356" fill="#a8a8a8"/><rect x="690" y="57" width="1" height="368" fill="#d8d8d8"/><rect x="681" y="58" width="8" height="1" fill="#fff"/><rect x="680" y="68" width="10" height="1" fill="#808080"/><path d="M681.9 64L684.9 61L687.9 64Z" fill="#000"/><rect x="681" y="69" width="1" height="334" fill="#bcbcbc"/><rect x="680" y="403" width="10" height="1" fill="#a0a0a0"/><rect x="681" y="404" width="8" height="1" fill="#e4e4e4"/><rect x="680" y="413" width="10" height="1" fill="#a8a8a8"/><path d="M681.9 408H687.9L684.9 411Z" fill="#000"/><rect x="680" y="258.5" width="9.6" height="10" fill="url(#thumb)"/><rect x="680.5" y="259" width="8.6" height="9" fill="none" stroke="#7c7cbc" stroke-width="1"/><rect x="178" y="414" width="513" height="11" fill="#d0d0d0"/><rect x="178" y="414" width="502" height="1" fill="#808080"/><rect x="177" y="424" width="514" height="1" fill="#7a7a7a"/><rect x="177" y="425" width="514" height="1" fill="#ffffff"/><rect x="178" y="415" width="1" height="9" fill="#fff"/><rect x="178" y="415" width="10" height="1" fill="#fff"/><rect x="188" y="415" width="1" height="9" fill="#808080"/><path d="M180.9 419.6L183.9 417.1V422.2Z" fill="#000"/><rect x="189" y="415" width="480" height="1" fill="#bcbcbc"/><rect x="669" y="415" width="1" height="9" fill="#808080"/><rect x="670" y="415" width="1" height="9" fill="#e6e6e6"/><rect x="670" y="415" width="9" height="1" fill="#f4f4f4"/><rect x="679" y="414" width="1" height="10" fill="#8a8a8a"/><path d="M676.6 419.6L673.9 417.6V421.7Z" fill="#000"/><rect x="410.2" y="414.6" width="14.4" height="9.6" fill="url(#thumb)"/><rect x="410.7" y="415.1" width="13.4" height="8.6" fill="none" stroke="#7c7cbc" stroke-width="1"/><rect x="680" y="414" width="10" height="10" fill="#cccccc"/></svg>
<div id="text" class="a"></div>
<svg class="a" style="left:0;top:426px" width="695" height="36" viewBox="0 426 695 36" font-family="Liberation Sans" font-size="8.2" fill="#1e1e1e"><text x="5.33" y="436.7" textLength="22.77" lengthAdjust="spacingAndGlyphs">Boxes</text><text x="31.54" y="436.7" textLength="9.51" lengthAdjust="spacingAndGlyphs">on</text><text x="43.43" y="436.7" textLength="27.05" lengthAdjust="spacingAndGlyphs">bottom</text><text x="72.96" y="436.7" textLength="11.70" lengthAdjust="spacingAndGlyphs">are</text><text x="87.72" y="436.7" textLength="16.94" lengthAdjust="spacingAndGlyphs">post</text><text x="107.43" y="436.7" textLength="34.11" lengthAdjust="spacingAndGlyphs">gastrular</text><text x="144.16" y="436.7" textLength="32.45" lengthAdjust="spacingAndGlyphs">terminal</text><text x="178.56" y="436.7" textLength="9.31" lengthAdjust="spacingAndGlyphs">or</text><text x="189.92" y="436.7" textLength="39.77" lengthAdjust="spacingAndGlyphs">peripheral</text><text x="231.65" y="436.7" textLength="44.79" lengthAdjust="spacingAndGlyphs">downstream</text><text x="278.40" y="436.7" textLength="28.46" lengthAdjust="spacingAndGlyphs">genes.</text><text x="312.46" y="436.7" textLength="24.10" lengthAdjust="spacingAndGlyphs">Green</text><text x="338.63" y="436.7" textLength="38.09" lengthAdjust="spacingAndGlyphs">diamonds</text><text x="378.75" y="436.7" textLength="17.83" lengthAdjust="spacingAndGlyphs">(and</text><text x="398.87" y="436.7" textLength="17.42" lengthAdjust="spacingAndGlyphs">thick</text><text x="419.12" y="436.7" textLength="27.47" lengthAdjust="spacingAndGlyphs">linkage</text><text x="448.49" y="436.7" textLength="21.57" lengthAdjust="spacingAndGlyphs">lines)</text><text x="473.03" y="436.7" textLength="29.14" lengthAdjust="spacingAndGlyphs">indicate</text><text x="504.71" y="436.7" textLength="33.17" lengthAdjust="spacingAndGlyphs">reported</text><text x="540.11" y="436.7" textLength="53.22" lengthAdjust="spacingAndGlyphs">experimental</text><text x="595.25" y="436.7" textLength="33.32" lengthAdjust="spacingAndGlyphs">evidence</text><text x="631.57" y="436.7" textLength="33.74" lengthAdjust="spacingAndGlyphs">validates</text><text x="5.62" y="446.5" textLength="80.09" lengthAdjust="spacingAndGlyphs">expected target site.</text></svg>
</body></html>
